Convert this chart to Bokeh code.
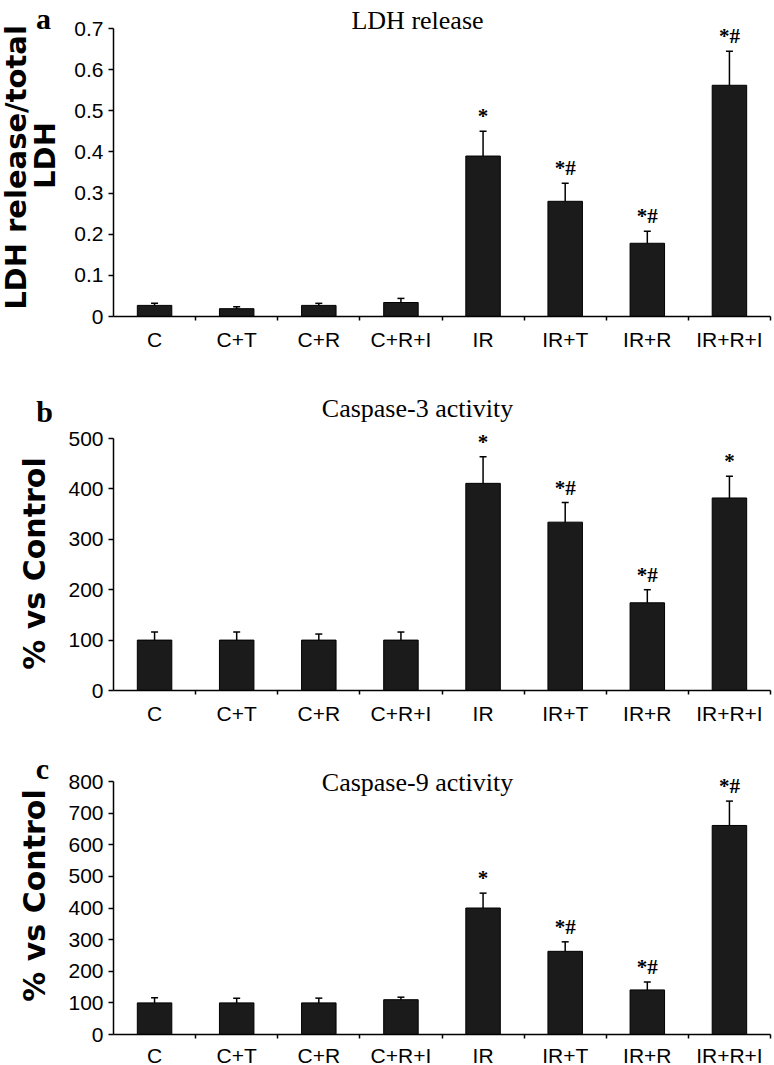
import math
from bokeh.plotting import figure
from bokeh.models import (Range1d, FixedTicker, CustomJSTickFormatter, Whisker, TeeHead,
                          ColumnDataSource, Label, NumeralTickFormatter)
from bokeh.layouts import column
from bokeh.embed import file_html
from bokeh.resources import INLINE
from bokeh.core.properties import value

# ---------------- data ----------------
categories = ["C", "C+T", "C+R", "C+R+I", "IR", "IR+T", "IR+R", "IR+R+I"]

ldh = [0.027, 0.019, 0.027, 0.034, 0.390, 0.280, 0.178, 0.562]
ldh_err = [0.005, 0.005, 0.005, 0.010, 0.060, 0.044, 0.029, 0.083]
ldh_sig = ["", "", "", "", "*", "*#", "*#", "*#"]
ldh_ticks = [0, 0.1, 0.2, 0.3, 0.4, 0.5, 0.6, 0.7]

casp3 = [100, 100, 100, 100, 411, 334, 174, 382]
casp3_err = [16, 16, 12, 16, 53, 39, 26, 43]
casp3_sig = ["", "", "", "", "*", "*#", "*#", "*"]
casp3_ticks = [0, 100, 200, 300, 400, 500]

casp9 = [100, 100, 100, 110, 400, 263, 141, 661]
casp9_err = [16, 15, 15, 8, 47, 30, 25, 77]
casp9_sig = ["", "", "", "", "*", "*#", "*#", "*#"]
casp9_ticks = [0, 100, 200, 300, 400, 500, 600, 700, 800]

titles = ["LDH release", "Caspase-3 activity", "Caspase-9 activity"]
letters = ["a", "b", "c"]
ylabel_a = ["LDH release/total", "LDH"]
ylabel_bc = "% vs Control"

# ---------------- layout / style ----------------
SANS = "Liberation Sans"
SERIF = "Liberation Serif"
YFONT = "DejaVu Sans"
BAR = "#1b1b1b"
FIG_W = 774
N = len(categories)
xs = [i + 0.5 for i in range(N)]

AX_LEFT = 113          # pixel position of the y axis
AX_RIGHT = 770         # pixel position of the right end of the x axis
PPX = (AX_RIGHT - AX_LEFT) / N
X_START = -AX_LEFT / PPX
X_END = N + (FIG_W - AX_RIGHT) / PPX


def lx(px):
    return (px - AX_LEFT) / PPX


def make_panel(vals, errs, sigs, ticks, height, y0_px, ytop_px, xlab_standoff=5, fmt=None):
    ppy = (y0_px - ytop_px) / ticks[-1]
    y_start = -(height - y0_px) / ppy
    y_end = y0_px / ppy

    def ly(py):
        return (y0_px - py) / ppy

    p = figure(width=FIG_W, height=height, x_range=Range1d(X_START, X_END),
               y_range=Range1d(y_start, y_end),
               output_backend="svg", toolbar_location=None,
               min_border=0, min_border_left=0, min_border_right=0,
               min_border_top=0, min_border_bottom=0)
    p.outline_line_color = None
    p.xgrid.visible = False
    p.ygrid.visible = False
    p.background_fill_color = "white"
    p.border_fill_color = "white"

    src = ColumnDataSource(dict(
        x=xs, top=vals, upper=[v + e for v, e in zip(vals, errs)], sig=sigs, cat=categories))

    p.vbar(x="x", top="top", width=0.42, source=src, fill_color=BAR, line_color="black",
           line_width=1)
    w = Whisker(base="x", upper="upper", lower="top", source=src,
                upper_head=TeeHead(size=7, line_width=1.5, line_color="black"),
                lower_head=None, line_width=1.5, line_color="black", level="overlay")
    p.add_layout(w)
    p.text(x="x", y="upper", text="sig", source=src, text_align="center",
           text_baseline="alphabetic", y_offset=-15,
           text_font=value(SERIF), text_font_style="bold", text_font_size="21px",
           text_color="black")

    # x axis: category labels centred, tick marks at category boundaries
    xa = p.xaxis[0]
    xa.fixed_location = 0
    xa.bounds = (0, N)
    xa.ticker = FixedTicker(ticks=xs, minor_ticks=list(range(1, N + 1)))
    xa.formatter = CustomJSTickFormatter(args=dict(labels=categories),
                                         code="return labels[Math.floor(tick)];")
    xa.major_tick_line_color = None
    xa.minor_tick_in = 0
    xa.minor_tick_out = 4
    xa.minor_tick_line_color = "black"
    xa.minor_tick_line_width = 1.5
    xa.axis_line_width = 1.5
    xa.axis_line_color = "black"
    xa.major_label_standoff = xlab_standoff
    xa.major_label_text_font = SANS
    xa.major_label_text_font_size = "21px"
    xa.major_label_text_color = "black"

    ya = p.yaxis[0]
    ya.fixed_location = 0
    ya.ticker = FixedTicker(ticks=ticks)
    if fmt is not None:
        ya.formatter = fmt
    ya.bounds = (ticks[0], ticks[-1])
    ya.major_tick_in = 0
    ya.major_tick_out = 5
    ya.minor_tick_line_color = None
    ya.axis_line_width = 1.5
    ya.axis_line_color = "black"
    ya.major_tick_line_width = 1.5
    ya.major_label_standoff = 5
    ya.major_label_text_font = SANS
    ya.major_label_text_font_size = "21px"
    ya.major_label_text_color = "black"
    return p, ly


def add_titles(p, ly, title, title_base_px, letter, letter_x_px, letter_base_px):
    p.add_layout(Label(x=lx(417), y=ly(title_base_px), text=title, text_align="center",
                       text_baseline="alphabetic", text_font=SERIF, text_font_size="26px",
                       text_color="black"))
    p.add_layout(Label(x=lx(letter_x_px), y=ly(letter_base_px), text=letter,
                       text_align="center", text_baseline="alphabetic", text_font=SERIF,
                       text_font_style="bold", text_font_size="30px", text_color="black"))


def add_ylabel(p, ly, text, x_px, y_px, size):
    p.add_layout(Label(x=lx(x_px), y=ly(y_px), text=text, angle=math.pi / 2,
                       text_align="center", text_baseline="middle", text_font=YFONT,
                       text_font_style="bold", text_font_size=size, text_color="black"))


# panel a : figure rows 0..368
pa, lya = make_panel(ldh, ldh_err, ldh_sig, ldh_ticks, 368, 316, 28,
                     fmt=NumeralTickFormatter(format="0.[0]"))
add_titles(pa, lya, titles[0], 20, letters[0], 43, 18)
add_ylabel(pa, lya, ylabel_a[0], 15, 167, "29px")
add_ylabel(pa, lya, ylabel_a[1], 44, 155, "29px")

# panel b : figure rows 368..726
pb, lyb = make_panel(casp3, casp3_err, casp3_sig, casp3_ticks, 358, 322, 70)
add_titles(pb, lyb, titles[1], 40, letters[1], 44, 43)
add_ylabel(pb, lyb, ylabel_bc, 34, 195, "30px")

# panel c : figure rows 726..1065
pc, lyc = make_panel(casp9, casp9_err, casp9_sig, casp9_ticks, 339, 308, 55, xlab_standoff=3)
add_titles(pc, lyc, titles[2], 56, letters[2], 42, 42)
add_ylabel(pc, lyc, ylabel_bc, 34, 169, "30px")

layout = column(pa, pb, pc, spacing=0)
open("out.html", "w").write(file_html(layout, INLINE))
